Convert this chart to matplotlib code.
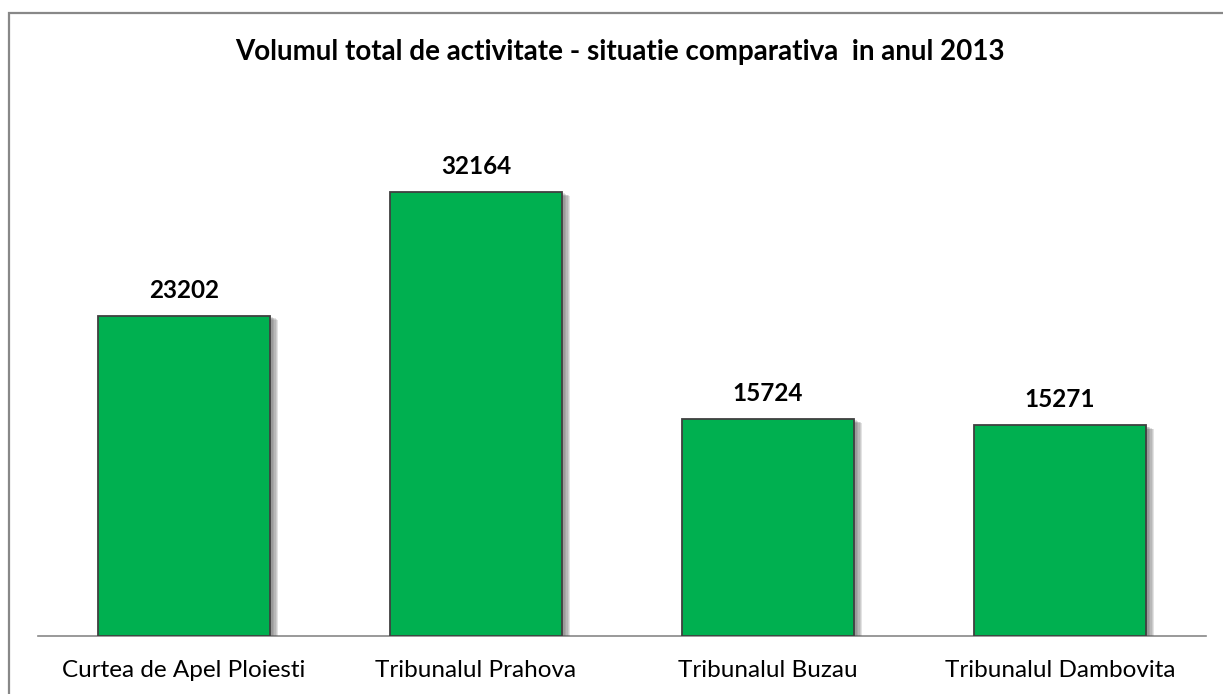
import matplotlib.pyplot as plt
import matplotlib.patches as mpatches
import matplotlib.patheffects as pe

courts = ["Curtea de Apel Ploiesti", "Tribunalul Prahova", "Tribunalul Buzau", "Tribunalul Dambovita"]
volumes = [23202, 32164, 15724, 15271]

plt.rcParams['font.family'] = ['Lato', 'DejaVu Sans']

fig = plt.figure(figsize=(12.23, 6.94), dpi=100)
ax = fig.add_axes([0.0311, 0.0836, 0.955, 0.7723])

bars = ax.bar(range(len(courts)), volumes, width=0.589, color="#00B050",
              edgecolor="#404040", linewidth=1.3, zorder=3)
# soft drop shadow, built from a few offset layers
shadow = [pe.SimplePatchShadow(offset=(d, -d * 0.5), shadow_rgbFace="#555555", alpha=0.16)
          for d in (1.0, 2.0, 3.0, 4.0, 5.0, 6.0)]
for b in bars:
    b.set_path_effects(shadow + [pe.Normal()])

for i, v in enumerate(volumes):
    ax.annotate(str(v), (i, v), xytext=(0, 10), textcoords="offset points",
                ha="center", va="bottom", fontsize=17.5, fontweight="bold")

ax.set_xlim(-0.5, 3.5)
ax.set_ylim(0, 38830)
ax.set_yticks([])
ax.set_xticks(range(len(courts)))
ax.set_xticklabels(courts, fontsize=17.5)
ax.tick_params(axis="x", length=0, pad=17)
for s in ["top", "right", "left"]:
    ax.spines[s].set_visible(False)
ax.spines["bottom"].set_color("#888888")
ax.spines["bottom"].set_linewidth(1.2)

fig.text(0.507, 0.925, "Volumul total de activitate - situatie comparativa  in anul 2013",
         ha="center", va="center", fontsize=20, fontweight="bold")

border = mpatches.Rectangle((9 / 1223, -0.1), 1.2, 1 - 13 / 694 + 0.1, transform=fig.transFigure,
                            fill=False, edgecolor="#888888", linewidth=1.6)
fig.add_artist(border)

fig.savefig("out.png", dpi=100)
